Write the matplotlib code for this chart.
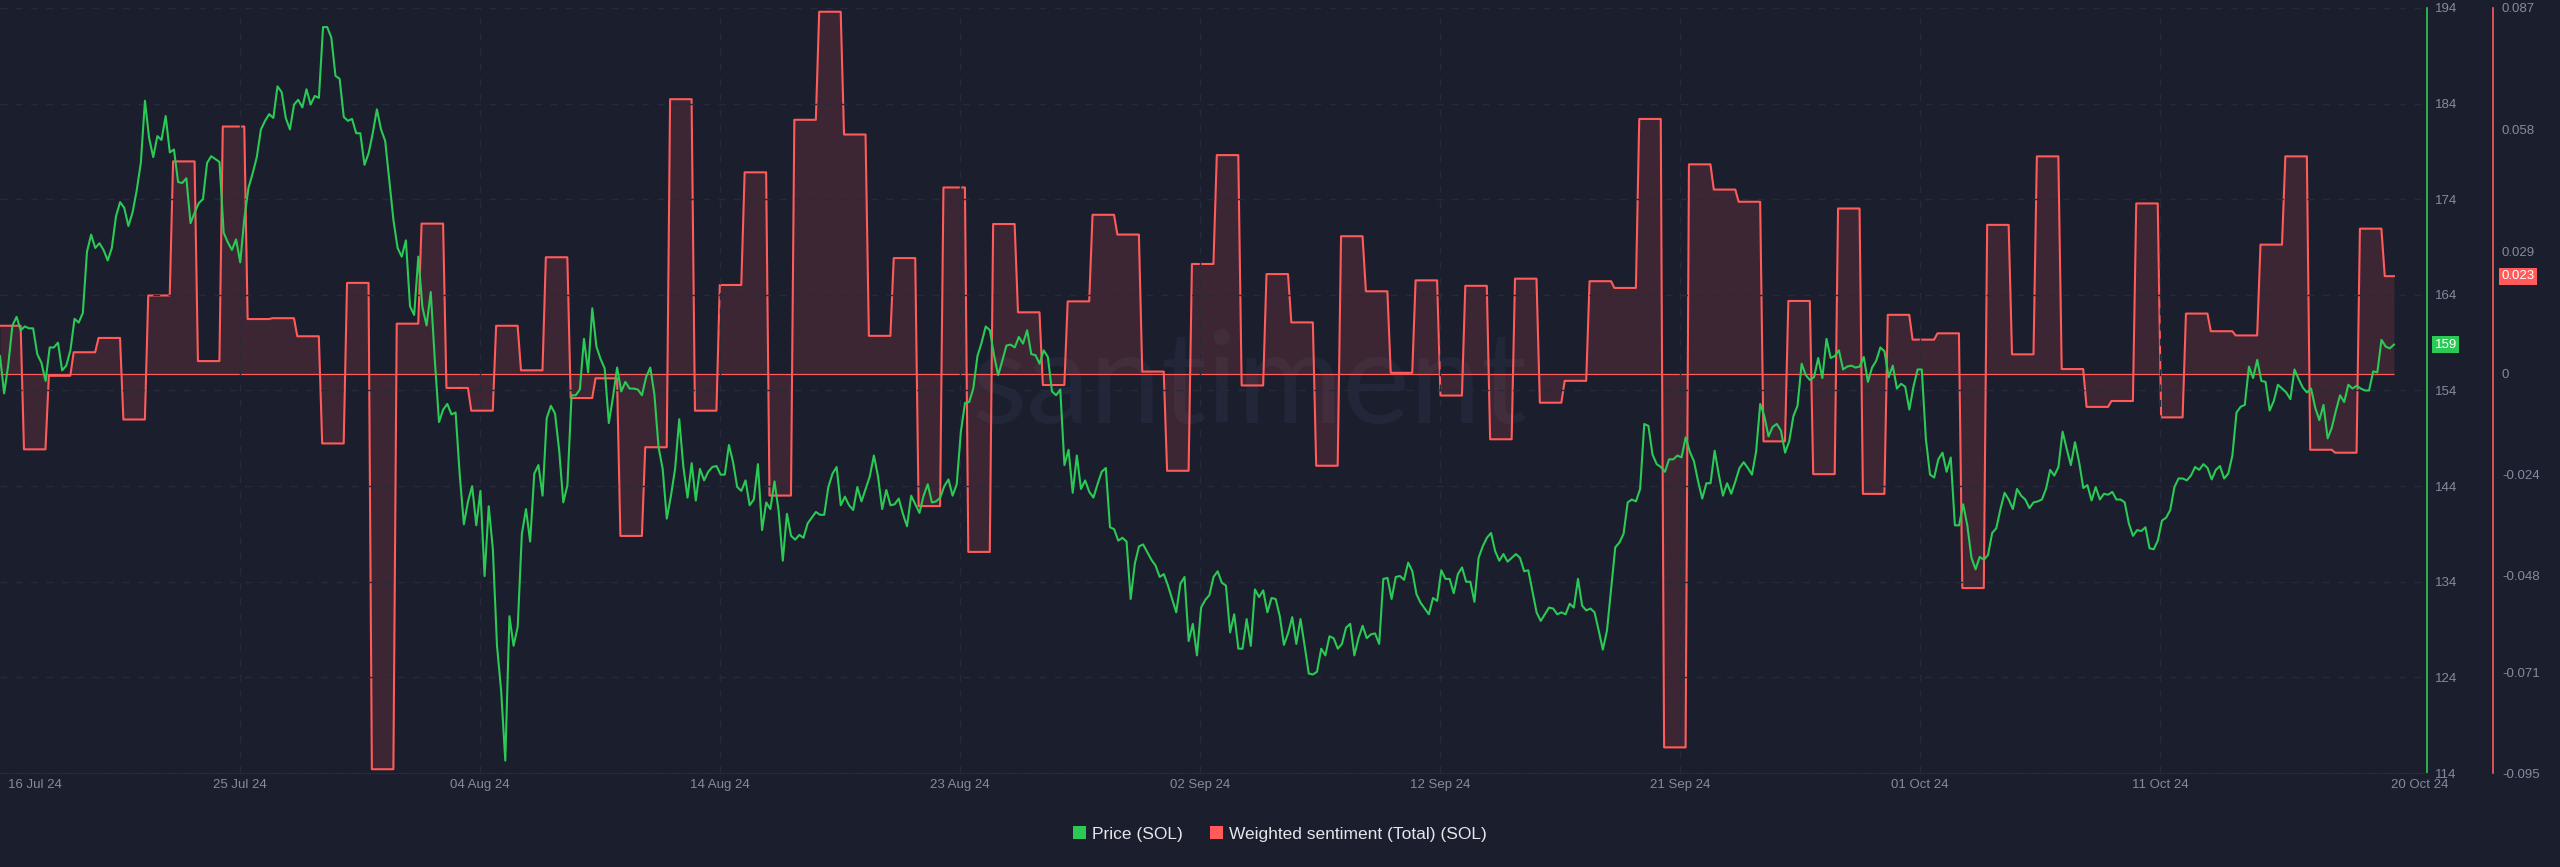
import numpy as np
import matplotlib
matplotlib.use("Agg")
import matplotlib.pyplot as plt
from matplotlib.patches import Patch
from matplotlib.transforms import blended_transform_factory, ScaledTranslation

plt.rcParams['font.family'] = ['Liberation Sans', 'DejaVu Sans']

# SOL price, one value every 4 hours from 16 Jul 24
price = [
    157.6, 153.7, 156.7, 160.8, 161.7, 160.3, 160.7, 160.5, 160.5, 157.8,
    156.9, 155.0, 158.5, 158.5, 159.0, 156.1, 156.6, 158.2, 161.5, 161.1,
    162.1, 168.5, 170.3, 168.9, 169.4, 168.7, 167.6, 168.9, 172.2, 173.7,
    173.1, 171.2, 172.6, 174.9, 177.8, 184.3, 180.4, 178.4, 180.6, 180.2,
    182.7, 178.9, 179.2, 175.8, 175.7, 176.2, 171.5, 172.6, 173.6, 174.0,
    177.8, 178.5, 178.2, 177.9, 170.5, 169.5, 168.7, 169.8, 167.4, 172.0,
    175.2, 176.7, 178.4, 181.3, 182.2, 182.9, 182.5, 185.8, 185.2, 182.5,
    181.3, 183.9, 184.4, 183.6, 185.5, 183.9, 184.8, 184.6, 192.0, 192.0,
    190.9, 186.9, 186.6, 182.6, 182.2, 182.4, 180.9, 180.9, 177.6, 178.8,
    180.9, 183.4, 181.3, 180.1, 175.9, 171.8, 168.9, 168.0, 169.7, 162.8,
    161.9, 168.0, 162.7, 160.8, 164.3, 157.1, 150.7, 152.0, 152.6, 151.5,
    151.7, 145.2, 140.0, 142.4, 144.0, 139.9, 143.5, 134.6, 141.9, 137.4,
    127.3, 122.6, 115.3, 130.4, 127.3, 129.3, 139.0, 141.6, 138.2, 145.3,
    146.2, 143.0, 151.1, 152.4, 151.6, 147.8, 142.3, 144.1, 153.5, 153.5,
    154.1, 159.4, 155.9, 162.6, 158.6, 157.3, 156.3, 150.6, 153.3, 156.4,
    153.9, 154.9, 154.2, 154.2, 154.1, 153.5, 155.4, 156.4, 153.6, 148.1,
    145.8, 140.6, 143.0, 145.8, 151.0, 146.0, 142.8, 146.4, 142.5, 145.8,
    144.6, 145.5, 146.0, 146.1, 145.2, 145.2, 148.3, 146.5, 143.9, 143.5,
    144.6, 142.0, 142.6, 146.3, 139.4, 142.3, 141.6, 144.5, 141.4, 136.2,
    141.1, 138.8, 138.4, 138.9, 138.6, 140.1, 140.7, 141.3, 141.0, 141.0,
    143.9, 145.3, 146.0, 142.0, 142.9, 142.0, 141.5, 143.9, 142.4, 143.7,
    145.0, 147.2, 145.0, 141.6, 143.6, 142.0, 142.1, 142.7, 141.1, 139.8,
    143.0, 142.1, 141.2, 143.0, 144.2, 142.3, 142.4, 142.8, 144.0, 144.7,
    143.0, 144.2, 149.7, 152.7, 152.8, 154.2, 157.6, 159.0, 160.7,
    160.3, 157.7, 155.6, 157.1, 158.7, 158.8, 158.5, 159.6, 158.9, 160.3,
    157.8, 157.7, 156.8, 158.2, 157.5, 153.9, 153.5, 154.1, 146.2, 147.8,
    143.3, 147.2, 143.7, 144.6, 143.4, 142.8, 144.2, 145.5, 145.9, 139.7,
    139.5, 138.3, 138.6, 138.2, 132.2, 135.9, 137.7, 137.9, 137.1, 136.3,
    135.7, 134.5, 134.8, 133.6, 132.2, 130.8, 133.8, 134.5, 127.8, 129.6,
    126.3, 131.3, 132.1, 132.6, 134.5, 135.1, 133.9, 133.6, 128.7, 130.6,
    127.0, 127.0, 130.1, 127.3, 133.2, 132.4, 133.1, 130.8, 132.3, 132.2,
    130.4, 127.4, 128.6, 130.3, 127.5, 130.1, 127.3, 124.4, 124.3, 124.6,
    127.0, 126.3, 128.3, 128.1, 127.0, 127.5, 129.2, 129.6, 126.3, 128.1,
    129.4, 128.1, 128.5, 128.6, 127.5, 134.3, 134.4, 132.2, 134.5, 134.6,
    134.2, 136.0, 135.1, 132.7, 131.8, 131.2, 130.6, 132.3, 132.0, 135.2,
    134.3, 134.3, 132.8, 134.8, 135.5, 134.0, 134.0, 131.9, 136.5,
    137.7, 138.6, 139.1, 137.2, 136.2, 136.9, 136.1, 136.5, 136.9, 136.5,
    135.1, 135.2, 133.0, 130.8, 129.9, 130.6, 131.3, 131.2, 130.6, 130.8,
    130.6, 131.7, 131.3, 134.3, 131.5, 131.0, 131.2, 130.8, 128.9, 126.9,
    128.9, 133.2, 137.6, 138.1, 139.0, 142.3, 142.6, 142.4, 143.7, 150.5,
    150.3, 147.3, 146.3, 146.0, 145.5, 146.8, 146.8, 147.2, 147.0, 149.1,
    147.6, 146.6, 144.5, 142.7, 144.3, 144.3, 147.7, 145.2, 143.0, 144.3,
    143.2, 144.5, 145.9, 146.5, 145.9, 145.2, 147.6, 152.6, 151.3, 149.2,
    150.2, 150.5, 149.8, 147.5, 148.7, 151.3, 152.4, 156.8, 155.6, 155.1,
    155.4, 157.4, 155.3, 159.4, 157.4, 157.6, 158.2, 156.2, 156.5, 156.6,
    156.4, 156.5, 157.5, 154.9, 156.4, 157.1, 158.5, 158.1, 155.4, 156.6,
    154.2, 154.7, 154.4, 152.0, 154.4, 156.2, 156.2, 148.9, 145.2, 144.9,
    146.8, 147.5, 145.5, 147.0, 139.9, 139.9, 142.1, 139.9,
    136.5, 135.3, 136.6, 136.3, 136.8, 139.1, 139.6, 141.6, 143.3, 142.6,
    141.6, 143.7, 143.0, 142.6, 141.7, 142.3, 142.4, 142.6, 143.7, 145.7,
    145.1, 146.0, 149.7, 147.9, 146.2, 148.6, 146.5, 143.8, 144.1, 142.5,
    143.9, 142.6, 143.2, 143.1, 143.4, 142.6, 142.6, 142.3, 140.1, 138.8,
    139.4, 139.3, 139.7, 137.5, 137.4, 138.3, 140.4, 140.7, 141.5, 143.9,
    144.8, 144.8, 144.6, 145.1, 146.0, 145.7, 146.3, 145.9, 144.7, 145.7,
    146.1, 144.8, 145.3, 147.2, 151.7, 152.3, 152.5, 156.5, 155.3, 157.2,
    155.0, 154.9, 151.9, 152.9, 154.6, 154.2, 153.8, 153.1, 156.2, 155.2,
    154.3, 153.8, 154.2, 152.2, 150.9, 152.5, 149.0, 150.1, 151.9, 153.5,
    152.8, 154.6, 154.2, 154.5, 154.2, 154.0, 154.0, 156.0, 155.9, 159.3,
    158.6, 158.4, 158.8,
]

# weighted sentiment (total), one value per day
sentiment = [
    0.0114, -0.0180, -0.0005, 0.0051, 0.0085, -0.0109, 0.0186, 0.0505, 0.0030, 0.0588,
    0.0130, 0.0132, 0.0089, -0.0166, 0.0216, -0.0941, 0.0119, 0.0357, -0.0034, -0.0088,
    0.0114, 0.0008, 0.0277, -0.0058, -0.0011, -0.0386, -0.0175, 0.0653, -0.0088, 0.0211,
    0.0479, -0.0290, 0.0604, 0.0861, 0.0569, 0.0090, 0.0275, -0.0315, 0.0443, -0.0424,
    0.0356, 0.0146, -0.0027, 0.0172, 0.0378, 0.0331, 0.0005, -0.0231, 0.0261, 0.0520,
    -0.0028, 0.0237, 0.0122, -0.0219, 0.0327, 0.0196, 0.0002, 0.0222, -0.0052, 0.0209,
    -0.0156, 0.0226, -0.0069, -0.0017, 0.0220, 0.0204, 0.0606, -0.0889, 0.0498, 0.0438,
    0.0409, -0.0161, 0.0173, -0.0239, 0.0393, -0.0286, 0.0140, 0.0081, 0.0096, -0.0510,
    0.0354, 0.0046, 0.0517, 0.0011, -0.0079, -0.0065, 0.0405, -0.0104, 0.0143, 0.0101,
    0.0091, 0.0307, 0.0517, -0.0181, -0.0188, 0.0345, 0.0232,
]

date_labels = ['16 Jul 24', '25 Jul 24', '04 Aug 24', '14 Aug 24', '23 Aug 24',
               '02 Sep 24', '12 Sep 24', '21 Sep 24', '01 Oct 24', '11 Oct 24']
last_label = '20 Oct 24'

price_ticks = list(range(114, 195, 10))
sent_ticks = [0.087, 0.058, 0.029, 0, -0.024, -0.048, -0.071, -0.095]
sent_tick_labels = ['0.087', '0.058', '0.029', '0', '-0.024', '-0.048', '-0.071', '-0.095']

bg = '#1b1e2d'
green = '#2bc955'
red = '#ff5b5b'
grid_c = '#262a3b'
tick_c = '#858a9e'

# x in days
price_x = np.arange(len(price)) / 6.0
sx, sy = [], []
for k, v in enumerate(sentiment):
    sx += [max(k - 0.035, 0), min(k + 0.83, price_x[-1])]
    sy += [v, v]

fig = plt.figure(figsize=(25.6, 8.67), dpi=100, facecolor=bg)
ax = fig.add_axes([0, 0.1084, 0.948, 0.8824])
ax2 = ax.twinx()
ax.set_zorder(ax2.get_zorder() + 1)
ax.patch.set_visible(False)
ax2.patch.set_visible(True)
ax2.patch.set_facecolor(bg)

xmax = 97.66
step = 9.658
tick_pos = [step * i for i in range(len(date_labels))]
last_pos = 97.38

# sentiment
ax2.fill_between(sx, sy, 0, color=red, alpha=0.145, lw=0, zorder=1)
ax2.plot(sx, sy, color=red, lw=1.5, zorder=2)
ax2.hlines(0, sx[0], sx[-1], color=red, lw=0.9, zorder=2)
ax2.set_ylim(-0.095, 0.087)
ax2.set_yticks(sent_ticks)
ax2.set_yticklabels(sent_tick_labels)
ax2.tick_params(axis='y', length=0, pad=6.5, labelcolor=tick_c, labelsize=9.5)
for s in ['left', 'top', 'bottom']:
    ax2.spines[s].set_visible(False)
ax2.spines['right'].set_position(('axes', 2493 / 2427))
ax2.spines['right'].set_color(red)
ax2.spines['right'].set_linewidth(1.2)

# watermark
ax2.text(0.488, 0.512, 'santiment', transform=fig.transFigure, ha='center', va='baseline',
         fontsize=92, color='#222639', family=['Lato', 'DejaVu Sans'], zorder=0.5)

# price
ax.plot(price_x, price, color=green, lw=1.5, zorder=3)
ax.set_ylim(114, 194)
ax.set_xlim(0, xmax)
ax.yaxis.tick_right()
ax.set_yticks(price_ticks)
ax.tick_params(axis='y', length=0, pad=5.8, labelcolor=tick_c, labelsize=9.5)
ax.yaxis.grid(True, linestyle=(0, (5, 6)), color=grid_c, lw=1)
for t in tick_pos[1:]:
    ax.axvline(t, linestyle=(0, (5, 6)), color=grid_c, lw=1, zorder=0)

ax.set_xticks(tick_pos + [last_pos])
ax.set_xticklabels(date_labels + [last_label])
ax.tick_params(axis='x', length=0, pad=4.5, labelcolor=tick_c, labelsize=9.5)
first = ax.get_xticklabels()[0]
first.set_ha('left')
first.set_transform(first.get_transform() + ScaledTranslation(8 / 100, 0, fig.dpi_scale_trans))

for s in ['left', 'top']:
    ax.spines[s].set_visible(False)
ax.spines['bottom'].set_color(grid_c)
ax.spines['right'].set_color(green)
ax.spines['right'].set_linewidth(1.2)

# current value tags
trans = blended_transform_factory(ax.transAxes, ax.transData)
ax.text(1 + 19 / 2427, price[-1], f'{price[-1]:.0f}', transform=trans, ha='center', va='center',
        color='white', fontsize=9.5, clip_on=False,
        bbox=dict(boxstyle='square,pad=0.18', fc=green, ec='none'))
trans2 = blended_transform_factory(ax2.transAxes, ax2.transData)
ax2.text(1 + 91 / 2427, sentiment[-1], f'{sentiment[-1]:.3f}', transform=trans2, ha='center',
         va='center', color='white', fontsize=9.5, clip_on=False,
         bbox=dict(boxstyle='square,pad=0.18', fc=red, ec='none'))

handles = [Patch(fc=green, ec='none', label='Price (SOL)'),
           Patch(fc=red, ec='none', label='Weighted sentiment (Total) (SOL)')]
fig.legend(handles=handles, loc='center', bbox_to_anchor=(0.5, 0.038), ncol=2, frameon=False,
           fontsize=12.5, labelcolor='#e4e6ec', handlelength=0.75, handleheight=0.75,
           handletextpad=0.35, columnspacing=1.6)

fig.savefig('out.png', dpi=100, facecolor=bg)
